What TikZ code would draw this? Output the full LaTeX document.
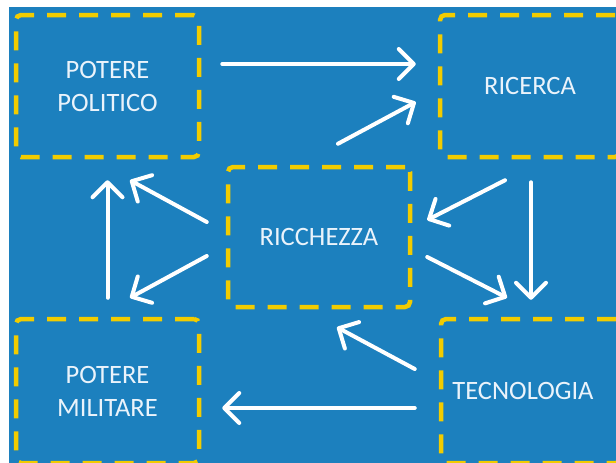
\documentclass[tikz,border=0pt]{standalone}
\usepackage{fontspec}
\usetikzlibrary{arrows.meta}
\newfontfamily\boxfont{Carlito}
\definecolor{sea}{RGB}{28,128,190}
\definecolor{gold}{RGB}{242,204,0}
\definecolor{chalk}{RGB}{234,243,251}
\tikzstyle{box} = [draw=gold,line width=4.5pt,dash pattern=on 19pt off 13pt,rounded corners=5pt,
  text=chalk,align=center,font=\boxfont\fontsize{26.5}{33}\selectfont]
\tikzstyle{flow} = [draw=white,line width=4pt,line cap=round,
  -{Straight Barb[length=15pt,width=30pt,line width=4pt,round]}]

\begin{document}
\begin{tikzpicture}[x=1pt,y=-1pt]
    \useasboundingbox[fill=white] (0,0) rectangle (616,463);
    \begin{scope}
    \clip (9,7) rectangle (616,463);
    \fill[sea] (9,7) rectangle (616,463);

    \node[box,minimum width=183pt,minimum height=142pt] (politico)   at (107.5,86) {POTERE\\POLITICO};
    \node[box,minimum width=180pt,minimum height=142pt] (ricerca)    at (530,86)   {RICERCA};
    \node[box,minimum width=182pt,minimum height=140pt] (ricchezza)  at (319,237)  {RICCHEZZA};
    \node[box,minimum width=183pt,minimum height=144pt] (militare)   at (107.5,391) {POTERE\\MILITARE};
    \node[box,minimum width=180pt,minimum height=144pt,
          label={[xshift=-8pt,text=chalk,font=\boxfont\fontsize{26.5}{33}\selectfont]center:TECNOLOGIA}]
          (tecnologia) at (531,391) {};

    % top row and the right side
    \draw[flow] ([xshift=21pt,yshift=22pt]politico.east) -- ([xshift=-22pt,yshift=22pt]ricerca.west);
    \draw[flow] ([xshift=19pt,yshift=21pt]ricchezza.north) -- ([xshift=-22pt,yshift=-16pt]ricerca.west);
    \draw[flow] ([xshift=-25pt,yshift=-21pt]ricerca.south) -- ([xshift=15pt,yshift=17pt]ricchezza.east);
    \draw[flow] ([xshift=1pt,yshift=-23pt]ricerca.south) -- ([yshift=17pt]tecnologia.north);
    \draw[flow] ([xshift=15pt,yshift=-20pt]ricchezza.east) -- ([xshift=-24pt,yshift=19pt]tecnologia.north);

    % bottom row and the left side
    \draw[flow] ([xshift=-24pt,yshift=22pt]tecnologia.west) -- ([xshift=18pt,yshift=-18pt]ricchezza.south);
    \draw[flow] ([xshift=-24pt,yshift=-17pt]tecnologia.west) -- ([xshift=21pt,yshift=-17pt]militare.east);
    \draw[flow] ([yshift=19pt]militare.north) -- ([yshift=-21pt]politico.south);
    \draw[flow] ([xshift=-19pt,yshift=15pt]ricchezza.west) -- ([xshift=22.5pt,yshift=-21pt]politico.south);
    \draw[flow] ([xshift=-19pt,yshift=-19pt]ricchezza.west) -- ([xshift=22.5pt,yshift=19pt]militare.north);
    \end{scope}
\end{tikzpicture}
\end{document}
